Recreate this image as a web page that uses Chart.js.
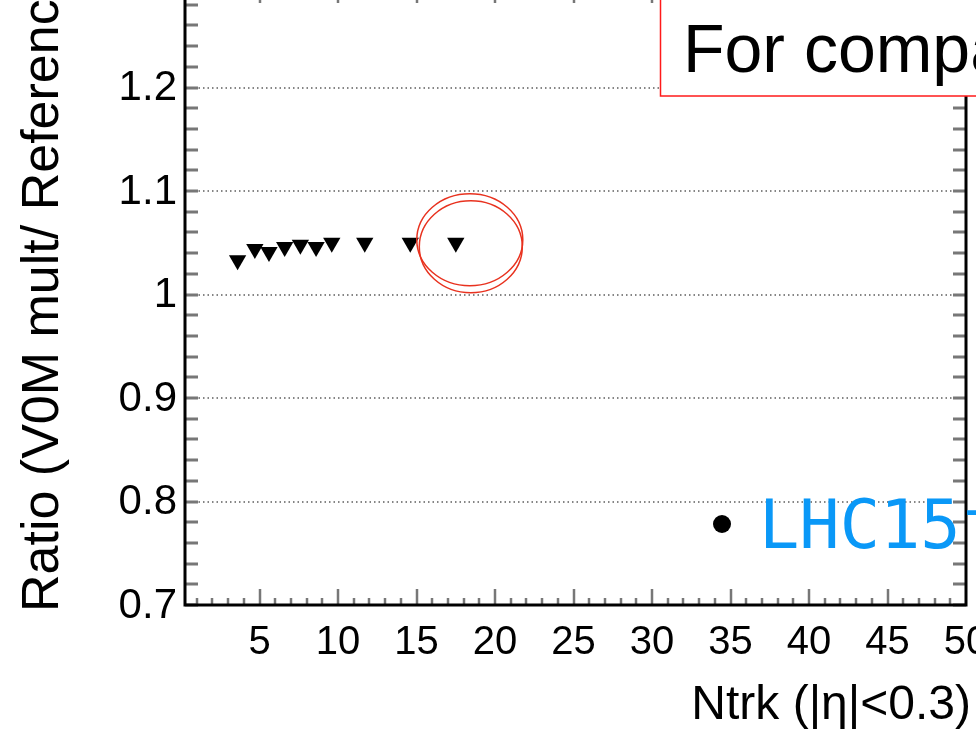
<!DOCTYPE html>
<html>
<head>
<meta charset="utf-8">
<script src="https://cdn.jsdelivr.net/npm/chart.js@4/dist/chart.umd.min.js"></script>
<style>
  html, body { margin: 0; padding: 0; background: #fff; overflow: hidden; }
  #wrap { position: absolute; left: 0; top: -40px; width: 976px; height: 772px; }
</style>
</head>
<body>
<div id="wrap"><canvas id="ratio_chart"></canvas></div>
<script>
// Ntrk bin positions and ratio values
const ntrk = [3.6, 4.7, 5.6, 6.6, 7.6, 8.6, 9.6, 11.7, 14.6, 17.5];
const ratio = [1.033, 1.044, 1.041, 1.046, 1.048, 1.046, 1.050, 1.050, 1.050, 1.050];

const xTicks = [5, 10, 15, 20, 25, 30, 35, 40, 45, 50];
const yTicks = [0.7, 0.8, 0.9, 1, 1.1, 1.2];
const yTickLabels = ["0.7", "0.8", "0.9", "1", "1.1", "1.2"];

const xTitle = "Ntrk (|η|<0.3)";
const yTitle = "Ratio (V0M mult/ Reference)";
const boxText = "For comparison";
const legendText = "LHC15f";

const OFF = 40; // canvas is shifted up so that the frame top sits above the page

const rootStyle = {
  id: "rootStyle",
  beforeDatasetsDraw(chart) {
    const { ctx, chartArea: a, scales: { x, y } } = chart;
    ctx.save();
    // dotted horizontal grid
    ctx.strokeStyle = "#858585";
    ctx.lineWidth = 2;
    ctx.setLineDash([1.5, 3]);
    yTicks.forEach(v => {
      const py = Math.round(y.getPixelForValue(v));
      ctx.beginPath();
      ctx.moveTo(a.left, py);
      ctx.lineTo(a.right, py);
      ctx.stroke();
    });
    ctx.setLineDash([]);

    // y ticks, left and right, every 0.02
    ctx.strokeStyle = "#777";
    ctx.lineWidth = 3;
    for (let i = 0; i <= 30; i++) {
      const py = Math.round(y.getPixelForValue(0.7 + i * 0.02));
      ctx.beginPath();
      ctx.moveTo(a.left, py); ctx.lineTo(a.left + 13, py);
      ctx.moveTo(a.right, py); ctx.lineTo(a.right - 13, py);
      ctx.stroke();
    }
    // x ticks, bottom and top, every 1
    ctx.lineWidth = 2.5;
    for (let v = 1; v < 50; v++) {
      const px = Math.round(x.getPixelForValue(v));
      const len = v % 5 === 0 ? 16 : 7;
      ctx.beginPath();
      ctx.moveTo(px, a.bottom); ctx.lineTo(px, a.bottom - len);
      ctx.moveTo(px, a.top); ctx.lineTo(px, a.top + len + 3);
      ctx.stroke();
    }

    // frame
    ctx.strokeStyle = "#000";
    ctx.lineWidth = 3;
    ctx.strokeRect(a.left, a.top, a.right - a.left, a.bottom - a.top);

    // tick labels
    ctx.fillStyle = "#000";
    ctx.font = "42px 'Liberation Sans', Arial, sans-serif";
    ctx.textAlign = "right";
    ctx.textBaseline = "middle";
    yTicks.forEach((v, i) => {
      ctx.fillText(yTickLabels[i], a.left - 8, y.getPixelForValue(v) + 1);
    });
    ctx.font = "40px 'Liberation Sans', Arial, sans-serif";
    ctx.textAlign = "center";
    ctx.textBaseline = "top";
    xTicks.forEach(v => {
      ctx.fillText(String(v), x.getPixelForValue(v), a.bottom + 18);
    });

    // axis titles
    ctx.font = "48px 'Liberation Sans', Arial, sans-serif";
    ctx.textAlign = "right";
    ctx.textBaseline = "alphabetic";
    ctx.fillText(xTitle, 971, 719 + OFF);
    ctx.font = "52px 'Liberation Sans', Arial, sans-serif";
    ctx.save();
    ctx.translate(58, 612 + OFF);
    ctx.rotate(-Math.PI / 2);
    ctx.textAlign = "left";
    ctx.fillText(yTitle, 0, 0);
    ctx.restore();
    ctx.restore();
  },
  afterDatasetsDraw(chart) {
    const { ctx, scales: { x, y } } = chart;
    ctx.save();
    // red ellipses around the last point
    ctx.strokeStyle = "#e8321f";
    ctx.lineWidth = 1.5;
    const cx = x.getPixelForValue(ntrk[ntrk.length - 1]) + 14;
    const cy = y.getPixelForValue(ratio[ratio.length - 1]);
    ctx.beginPath();
    ctx.ellipse(cx, cy - 3, 53, 46, 0, 0, Math.PI * 2);
    ctx.stroke();
    ctx.beginPath();
    ctx.ellipse(cx + 1, cy + 4, 51.5, 46, 0, 0, Math.PI * 2);
    ctx.stroke();

    // boxed note
    ctx.fillStyle = "#fff";
    ctx.fillRect(660, -10 + OFF, 330, 106);
    ctx.strokeStyle = "#ff1a1a";
    ctx.lineWidth = 1.5;
    ctx.strokeRect(660.5, -10 + OFF, 330, 106);
    ctx.fillStyle = "#000";
    ctx.font = "68px 'Liberation Sans', Arial, sans-serif";
    ctx.textAlign = "left";
    ctx.textBaseline = "alphabetic";
    ctx.fillText(boxText, 683, 72 + OFF);

    // bullet + blue label
    ctx.beginPath();
    ctx.arc(722, 524 + OFF, 9, 0, Math.PI * 2);
    ctx.fill();
    ctx.fillStyle = "#0a98f7";
    ctx.font = "67px 'DejaVu Sans Mono', monospace";
    ctx.fillText(legendText, 759, 548 + OFF);
    ctx.restore();
  }
};

new Chart("ratio_chart", {
  type: "scatter",
  data: {
    datasets: [{
      data: ntrk.map((v, i) => ({ x: v, y: ratio[i] })),
      pointStyle: "triangle",
      rotation: 180,
      radius: 10,
      backgroundColor: "#000",
      borderColor: "#000",
      borderWidth: 0
    }]
  },
  options: {
    responsive: true,
    maintainAspectRatio: false,
    animation: false,
    layout: { padding: { left: 185, right: 4, top: 24, bottom: 127 } },
    plugins: { legend: { display: false }, tooltip: { enabled: false } },
    scales: {
      x: { type: "linear", min: 0.25, max: 50, display: false },
      y: { type: "linear", min: 0.7, max: 1.3, display: false }
    }
  },
  plugins: [rootStyle]
});
</script>
</body>
</html>
